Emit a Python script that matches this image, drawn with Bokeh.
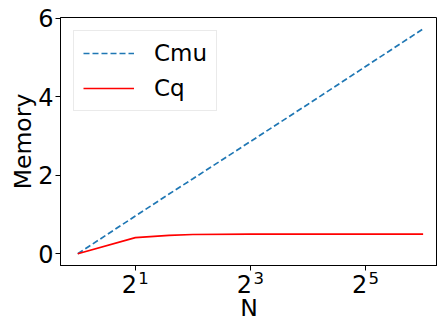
import math
from bokeh.plotting import figure
from bokeh.models import FixedTicker, Range1d, Legend, LegendItem, LogAxis
from bokeh.embed import file_html
from bokeh.resources import INLINE

N = [1, 2, 3, 4, 8, 16, 32, 64]
cmu = [0.0, 0.96, 1.52, 1.91, 2.86, 3.81, 4.77, 5.73]
cq = [0.0, 0.41, 0.47, 0.49, 0.50, 0.50, 0.50, 0.50]
x_ticks = [2, 8, 32]
y_ticks = [0, 2, 4, 6]
y_start, y_end = -0.3, 6.02

FONT = "DejaVu Sans"

p = figure(width=437, height=324, x_axis_type="log",
           x_range=Range1d(2 ** -0.3, 2 ** 6.25), y_range=Range1d(y_start, y_end),
           output_backend="svg", toolbar_location=None,
           min_border_left=60, min_border_top=17, min_border_right=0, min_border_bottom=59)
p.grid.visible = False
p.outline_line_color = "black"
p.outline_line_width = 1
p.background_fill_color = "white"
p.border_fill_color = "white"

l1 = p.line(N, cmu, line_color="#1f77b4", line_width=1.7, line_dash="6 3")
l2 = p.line(N, cq, line_color="#ff0000", line_width=1.7)

for ax in (p.xaxis[0], p.yaxis[0]):
    ax.axis_line_color = "black"
    ax.major_tick_line_color = "black"
    ax.major_tick_out = 5
    ax.major_tick_in = 0
    ax.minor_tick_out = 0
    ax.minor_tick_in = 0
    ax.major_label_text_font = FONT
    ax.major_label_text_font_size = "24px"
    ax.major_label_text_color = "black"
    ax.axis_label_text_font = FONT
    ax.axis_label_text_font_size = "23.5px"
    ax.axis_label_text_font_style = "normal"
    ax.axis_label_text_color = "black"

# base of the 2^k tick labels
p.xaxis.ticker = FixedTicker(ticks=x_ticks, minor_ticks=[])
p.xaxis.major_label_overrides = {t: "2\u2002" for t in x_ticks}
p.xaxis.major_label_standoff = 0

# exponents of the 2^k tick labels, on a second axis pulled up beside the bases
exp_axis = LogAxis(ticker=FixedTicker(ticks=x_ticks, minor_ticks=[]),
                   major_label_overrides={t: "\u2002\u2002" + str(int(round(math.log2(t)))) for t in x_ticks},
                   axis_line_color=None, major_tick_line_color=None,
                   major_tick_out=0, major_tick_in=0, minor_tick_out=0, minor_tick_in=0,
                   major_label_standoff=-33,
                   major_label_text_font=FONT, major_label_text_font_size="16.5px",
                   major_label_text_color="black",
                   axis_label="N", axis_label_standoff=3,
                   axis_label_text_font=FONT, axis_label_text_font_size="23.5px",
                   axis_label_text_font_style="normal", axis_label_text_color="black")
p.add_layout(exp_axis, "below")

p.yaxis.ticker = FixedTicker(ticks=y_ticks, minor_ticks=[])
p.yaxis.axis_label = "Memory"
p.yaxis.major_label_standoff = 2
p.yaxis.axis_label_standoff = -2

legend = Legend(items=[LegendItem(label="Cmu", renderers=[l1]),
                       LegendItem(label="Cq", renderers=[l2])],
                location="top_left")
legend.margin = 13
legend.padding = 9
legend.spacing = 9
legend.glyph_width = 51
legend.glyph_height = 24
legend.label_standoff = 20
legend.label_text_font = FONT
legend.label_text_font_size = "23px"
legend.label_text_color = "black"
legend.border_line_color = "#d5d5d5"
legend.border_line_width = 1
legend.background_fill_alpha = 0.8
p.add_layout(legend)

open("out.html", "w").write(file_html(p, INLINE))
